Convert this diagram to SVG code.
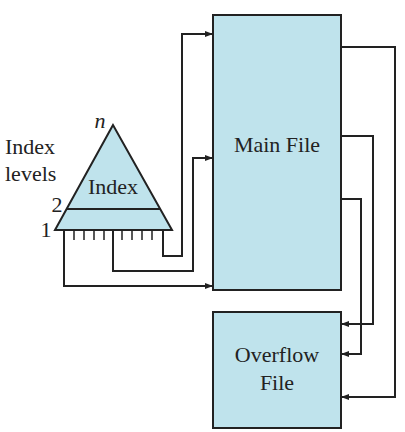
<svg xmlns="http://www.w3.org/2000/svg" width="405" height="432" viewBox="0 0 405 432">
<style>
.box{fill:#bfe3ec;stroke:#222;stroke-width:2}
.ln{fill:none;stroke:#222;stroke-width:2}
.t{font-family:"Liberation Serif",serif;font-size:22px;fill:#222}
</style>
<defs>
<marker id="ah" markerWidth="8" markerHeight="8" refX="7" refY="4" orient="auto" markerUnits="userSpaceOnUse">
<path d="M0,1 L8,4 L0,7 Z" fill="#222"/>
</marker>
</defs>
<rect width="405" height="432" fill="#fff"/>
<g id="index">
<polygon class="box" points="113,125 55,230 172,230"/>
<line class="ln" x1="67" y1="209" x2="160" y2="209"/>
<g class="ln" stroke-width="1.5">
<path d="M74,230V240M84,230V240M94,230V240M104,230V240M122,230V240M132,230V240M142,230V240M152,230V240" style="stroke-width:1.5"/>
</g>
<text class="t" x="113" y="194" text-anchor="middle">Index</text>
<text class="t" x="100" y="128" text-anchor="middle" font-style="italic">n</text>
<text class="t" x="57" y="212" text-anchor="middle">2</text>
<text class="t" x="46" y="237" text-anchor="middle">1</text>
</g>
<g id="levels">
<text class="t" x="5" y="154">Index</text>
<text class="t" x="5" y="181">levels</text>
</g>
<g id="main">
<rect class="box" x="213" y="15" width="128" height="275"/>
<text class="t" x="277" y="152" text-anchor="middle" font-size="23">Main File</text>
</g>
<g id="overflow">
<rect class="box" x="213" y="312" width="128" height="116"/>
<text class="t" x="277" y="362" text-anchor="middle" font-size="23">Overflow</text>
<text class="t" x="277" y="390" text-anchor="middle" font-size="23">File</text>
</g>
<g id="connectors">
<path class="ln" d="M163,230V256H182V34H212" marker-end="url(#ah)"/>
<path class="ln" d="M113,230V271H193V158H212" marker-end="url(#ah)"/>
<path class="ln" d="M64,230V286H212" marker-end="url(#ah)"/>
<path class="ln" d="M341,47H395V397H342" marker-end="url(#ah)"/>
<path class="ln" d="M341,136H373V324H342" marker-end="url(#ah)"/>
<path class="ln" d="M341,199H361V354H342" marker-end="url(#ah)"/>
</g>
</svg>
